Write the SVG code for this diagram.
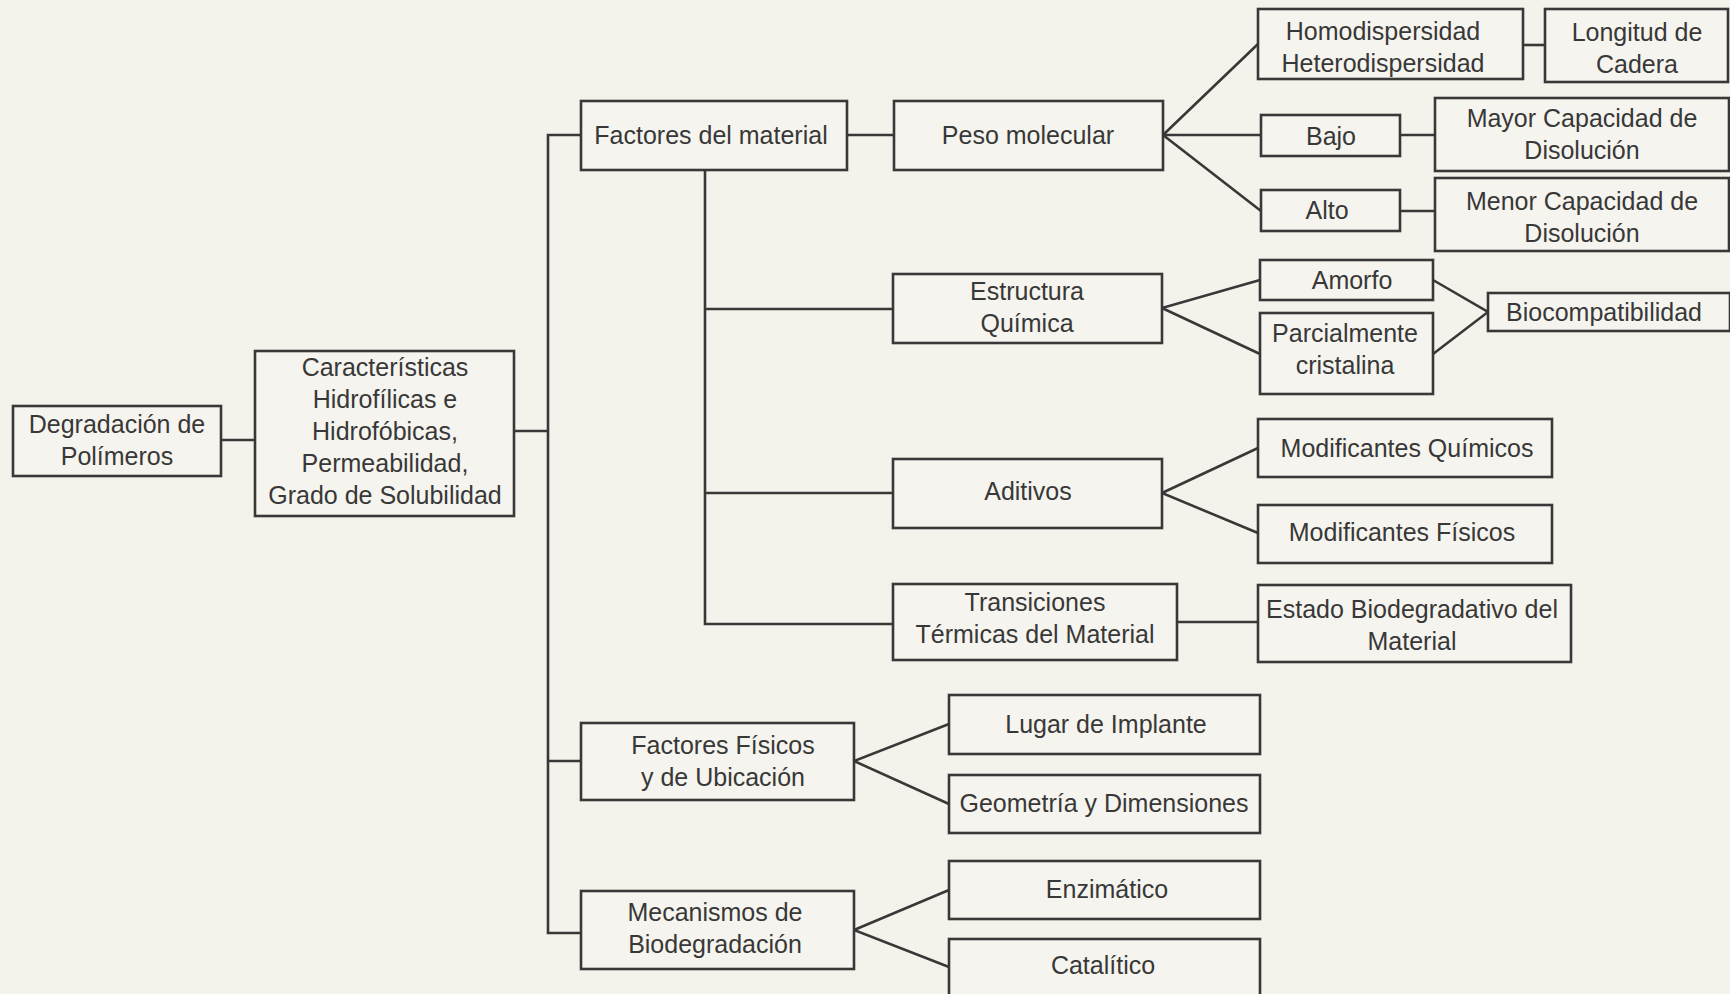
<svg xmlns="http://www.w3.org/2000/svg" width="1730" height="994" viewBox="0 0 1730 994">
<style>
.box{fill:#f6f4ee;stroke:#383838;stroke-width:2.6}
.t{font-family:"Liberation Sans",Arial,sans-serif;font-size:25px;fill:#383838;text-anchor:middle}
.c{fill:none;stroke:#383838;stroke-width:2.6;stroke-linejoin:miter}
</style>
<rect x="0" y="0" width="1730" height="994" fill="#f4f2eb"/>
<g id="connectors">
<polyline class="c" points="221,440 255,440"/>
<polyline class="c" points="514,431 548,431"/>
<polyline class="c" points="581,135 548,135 548,933 581,933"/>
<polyline class="c" points="548,761 581,761"/>
<polyline class="c" points="847,135 894,135"/>
<polyline class="c" points="705,170 705,624 893,624"/>
<polyline class="c" points="705,309 893,309"/>
<polyline class="c" points="705,493 893,493"/>
<polyline class="c" points="1258,44 1163,135 1261,135"/>
<polyline class="c" points="1163,135 1261,211"/>
<polyline class="c" points="1523,45 1545,45"/>
<polyline class="c" points="1400,135 1435,135"/>
<polyline class="c" points="1400,211 1435,211"/>
<polyline class="c" points="1260,280 1162,308 1260,354"/>
<polyline class="c" points="1433,280 1488,312 1433,354"/>
<polyline class="c" points="1258,448 1162,493 1258,533"/>
<polyline class="c" points="1177,622 1258,622"/>
<polyline class="c" points="949,724 854,761 949,804"/>
<polyline class="c" points="949,890 854,930 949,967"/>
</g>
<g id="n-degradacion"><rect class="box" x="13" y="406" width="208" height="70"/><text class="t" x="117" y="433">Degradación de</text><text class="t" x="117" y="465">Polímeros</text></g>
<g id="n-caracteristicas"><rect class="box" x="255" y="351" width="259" height="165"/><text class="t" x="385" y="376">Características</text><text class="t" x="385" y="408">Hidrofílicas e</text><text class="t" x="385" y="440">Hidrofóbicas,</text><text class="t" x="385" y="472">Permeabilidad,</text><text class="t" x="385" y="504">Grado de Solubilidad</text></g>
<g id="n-factores-material"><rect class="box" x="581" y="101" width="266" height="69"/><text class="t" x="711" y="144">Factores del material</text></g>
<g id="n-peso"><rect class="box" x="894" y="101" width="269" height="69"/><text class="t" x="1028" y="144">Peso molecular</text></g>
<g id="n-homo"><rect class="box" x="1258" y="9" width="265" height="70"/><text class="t" x="1383" y="40">Homodispersidad</text><text class="t" x="1383" y="72">Heterodispersidad</text></g>
<g id="n-longitud"><rect class="box" x="1545" y="9" width="183" height="73"/><text class="t" x="1637" y="41">Longitud de</text><text class="t" x="1637" y="73">Cadera</text></g>
<g id="n-bajo"><rect class="box" x="1261" y="115" width="139" height="41"/><text class="t" x="1331" y="145">Bajo</text></g>
<g id="n-mayor"><rect class="box" x="1435" y="98" width="294" height="73"/><text class="t" x="1582" y="127">Mayor Capacidad de</text><text class="t" x="1582" y="159">Disolución</text></g>
<g id="n-alto"><rect class="box" x="1261" y="190" width="139" height="41"/><text class="t" x="1327" y="219">Alto</text></g>
<g id="n-menor"><rect class="box" x="1435" y="178" width="294" height="73"/><text class="t" x="1582" y="210">Menor Capacidad de</text><text class="t" x="1582" y="242">Disolución</text></g>
<g id="n-estructura"><rect class="box" x="893" y="274" width="269" height="69"/><text class="t" x="1027" y="300">Estructura</text><text class="t" x="1027" y="332">Química</text></g>
<g id="n-amorfo"><rect class="box" x="1260" y="260" width="173" height="40"/><text class="t" x="1352" y="289">Amorfo</text></g>
<g id="n-parcial"><rect class="box" x="1260" y="313" width="173" height="81"/><text class="t" x="1345" y="342">Parcialmente</text><text class="t" x="1345" y="374">cristalina</text></g>
<g id="n-biocomp"><rect class="box" x="1488" y="293" width="242" height="38"/><text class="t" x="1604" y="321">Biocompatibilidad</text></g>
<g id="n-aditivos"><rect class="box" x="893" y="459" width="269" height="69"/><text class="t" x="1028" y="500">Aditivos</text></g>
<g id="n-modq"><rect class="box" x="1258" y="419" width="294" height="58"/><text class="t" x="1407" y="457">Modificantes Químicos</text></g>
<g id="n-modf"><rect class="box" x="1258" y="505" width="294" height="58"/><text class="t" x="1402" y="541">Modificantes Físicos</text></g>
<g id="n-transiciones"><rect class="box" x="893" y="584" width="284" height="76"/><text class="t" x="1035" y="611">Transiciones</text><text class="t" x="1035" y="643">Térmicas del Material</text></g>
<g id="n-estado"><rect class="box" x="1258" y="585" width="313" height="77"/><text class="t" x="1412" y="618">Estado Biodegradativo del</text><text class="t" x="1412" y="650">Material</text></g>
<g id="n-ffisicos"><rect class="box" x="581" y="723" width="273" height="77"/><text class="t" x="723" y="754">Factores Físicos</text><text class="t" x="723" y="786">y de Ubicación</text></g>
<g id="n-lugar"><rect class="box" x="949" y="695" width="311" height="59"/><text class="t" x="1106" y="733">Lugar de Implante</text></g>
<g id="n-geometria"><rect class="box" x="949" y="775" width="311" height="58"/><text class="t" x="1104" y="812">Geometría y Dimensiones</text></g>
<g id="n-mecanismos"><rect class="box" x="581" y="891" width="273" height="78"/><text class="t" x="715" y="921">Mecanismos de</text><text class="t" x="715" y="953">Biodegradación</text></g>
<g id="n-enzimatico"><rect class="box" x="949" y="861" width="311" height="58"/><text class="t" x="1107" y="898">Enzimático</text></g>
<g id="n-catalitico"><rect class="box" x="949" y="939" width="311" height="62"/><text class="t" x="1103" y="974">Catalítico</text></g>
</svg>
